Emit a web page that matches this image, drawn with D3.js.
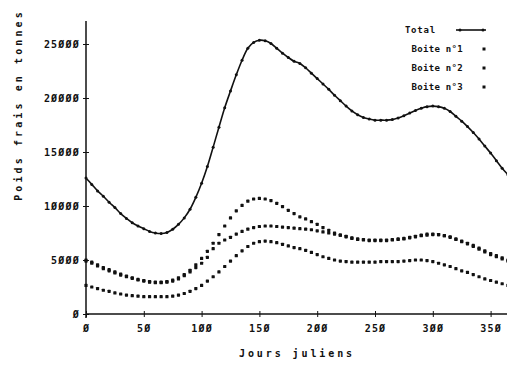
<!DOCTYPE html>
<html>
<head>
<meta charset="utf-8">
<script src="https://cdn.jsdelivr.net/npm/d3@7"></script>
<style>
  body { margin: 0; background: #fff; }
  text { font-family: "DejaVu Sans Mono", monospace; font-weight: bold; fill: #111; }
</style>
</head>
<body>
<div id="graph1"></div>
<script>
// julian days, one reading every 5 days
const days = d3.range(0, 366, 5);

// tonnes
const total = [12600, 12000, 11400, 10900, 10350, 9850, 9300, 8850, 8450, 8150,
  7900, 7650, 7500, 7450, 7550, 7850, 8300, 8900, 9700, 10800,
  12100, 13650, 15450, 17300, 19100, 20650, 22150, 23500, 24600, 25150,
  25350, 25300, 25050, 24600, 24150, 23750, 23400, 23200, 22800, 22300,
  21800, 21300, 20800, 20250, 19750, 19250, 18800, 18450, 18200, 18050,
  17950, 17950, 17950, 18000, 18150, 18350, 18600, 18850, 19050, 19200,
  19250, 19200, 19050, 18750, 18300, 17850, 17350, 16800, 16200, 15550,
  14900, 14200, 13500, 12900];

const boite1 = [5000, 4800, 4550, 4300, 4100, 3900, 3700, 3500, 3350, 3200,
  3100, 3000, 2950, 2950, 3000, 3150, 3350, 3650, 4050, 4550,
  5150, 5800, 6550, 7350, 8150, 8900, 9550, 10050, 10450, 10650,
  10700, 10650, 10500, 10250, 9950, 9600, 9300, 9000, 8800, 8550,
  8300, 8000, 7750, 7500, 7300, 7150, 7000, 6900, 6850, 6800,
  6800, 6800, 6800, 6850, 6900, 6950, 7050, 7150, 7250, 7300,
  7350, 7350, 7250, 7150, 6950, 6750, 6550, 6350, 6100, 5850,
  5600, 5400, 5200, 5000];

const boite2 = [4900, 4700, 4450, 4200, 4000, 3800, 3600, 3450, 3300, 3150,
  3050, 2950, 2900, 2900, 2950, 3050, 3250, 3550, 3900, 4300,
  4700, 5250, 6050, 6550, 6850, 7100, 7400, 7650, 7850, 8000,
  8100, 8150, 8150, 8100, 8050, 8000, 7950, 7900, 7850, 7800,
  7700, 7600, 7500, 7400, 7300, 7200, 7050, 6950, 6900, 6850,
  6850, 6850, 6850, 6900, 6950, 7000, 7100, 7200, 7300, 7400,
  7400, 7350, 7250, 7100, 6900, 6700, 6500, 6250, 6000, 5750,
  5500, 5300, 5100, 4900];

const boite3 = [2650, 2500, 2350, 2200, 2100, 1950, 1850, 1750, 1700, 1650,
  1600, 1600, 1600, 1600, 1600, 1650, 1750, 1900, 2100, 2350,
  2650, 3050, 3450, 3900, 4400, 4900, 5400, 5850, 6250, 6550,
  6700, 6750, 6700, 6600, 6450, 6300, 6150, 6050, 5900, 5700,
  5500, 5300, 5150, 5000, 4900, 4850, 4800, 4800, 4800, 4800,
  4800, 4850, 4850, 4850, 4850, 4900, 4950, 5000, 5000, 4950,
  4850, 4700, 4550, 4400, 4200, 4000, 3850, 3650, 3450, 3250,
  3100, 2950, 2800, 2650];

const xTicks = [0, 50, 100, 150, 200, 250, 300, 350];
const yTicks = [0, 5000, 10000, 15000, 20000, 25000];
const legendNames = ["Total", "Boite n°1", "Boite n°2", "Boite n°3"];

const width = 507, height = 367;
const margin = {left: 86, top: 21, right: 0, bottom: 53};

const svg = d3.select("#graph1").append("svg")
    .attr("width", width)
    .attr("height", height);

const x = d3.scaleLinear().domain([0, 365]).range([margin.left, margin.left + 365 * 404.6 / 350]);
const y = d3.scaleLinear().domain([0, 25000]).range([314, 44]);

// zeros drawn slashed like the old plotter font
const slash = s => String(s).replace(/0/g, "Ø");

// axes (cross ticks on both sides)
const yAxis = svg.append("g").attr("transform", `translate(${margin.left},0)`)
    .call(d3.axisLeft(y).tickValues(yTicks).tickSize(3).tickFormat(slash));
yAxis.select(".domain").attr("d", `M0,${y(0) + 4}V${margin.top}`).attr("stroke", "#111").attr("stroke-width", 1.5);
yAxis.selectAll(".tick line").attr("x1", 3).attr("x2", -3).attr("stroke", "#111");
yAxis.selectAll(".tick text").attr("x", -6).style("font-size", "10px").style("letter-spacing", "1.2px");

const xAxis = svg.append("g").attr("transform", `translate(0,${y(0)})`)
    .call(d3.axisBottom(x).tickValues(xTicks).tickSize(3).tickFormat(slash));
xAxis.select(".domain").attr("d", `M${margin.left},0H${width}`).attr("stroke", "#111").attr("stroke-width", 1.5);
xAxis.selectAll(".tick line").attr("y1", -3).attr("y2", 3).attr("stroke", "#111");
xAxis.selectAll(".tick text").attr("y", 11).style("font-size", "10px").style("letter-spacing", "1.2px");

// axis titles
svg.append("text")
    .attr("transform", `translate(22, 105) rotate(-90)`)
    .style("text-anchor", "middle")
    .style("font-size", "10px")
    .style("letter-spacing", "3.1px")
    .text("Poids frais en tonnes");

svg.append("text")
    .attr("x", 297).attr("y", 357)
    .style("text-anchor", "middle")
    .style("font-size", "10px")
    .style("letter-spacing", "2.9px")
    .text("Jours juliens");

// total: line with small dots at each reading
const line = d3.line().x((d, i) => x(days[i])).y(d => y(d)).curve(d3.curveCatmullRom);
svg.append("path").datum(total)
    .attr("d", line)
    .attr("fill", "none")
    .attr("stroke", "#111")
    .attr("stroke-width", 1.6);
svg.append("g").selectAll("circle").data(total).join("circle")
    .attr("cx", (d, i) => x(days[i]))
    .attr("cy", d => y(d))
    .attr("r", 1.5)
    .attr("fill", "#111");

// boxes: dots only
[boite1, boite2, boite3].forEach(series => {
    svg.append("g").selectAll("rect").data(series).join("rect")
        .attr("x", (d, i) => x(days[i]) - 1.6)
        .attr("y", d => y(d) - 1.6)
        .attr("width", 3.2)
        .attr("height", 3.2)
        .attr("rx", 0.6)
        .attr("fill", "#111");
});

// legend
const legend = svg.append("g");
legendNames.forEach((name, i) => {
    const ly = 30 + i * 19;
    legend.append("text")
        .attr("x", i === 0 ? 436 : 463).attr("y", ly + 3)
        .style("text-anchor", "end")
        .style("font-size", "9px")
        .style("letter-spacing", i === 0 ? "0.8px" : "0.3px")
        .text(name);
    if (i === 0) {
        legend.append("line")
            .attr("x1", 456).attr("x2", 486).attr("y1", ly).attr("y2", ly)
            .attr("stroke", "#111").attr("stroke-width", 1.6);
        legend.append("circle").attr("cx", 460).attr("cy", ly).attr("r", 1.5).attr("fill", "#111");
        legend.append("circle").attr("cx", 483).attr("cy", ly).attr("r", 1.5).attr("fill", "#111");
    } else {
        legend.append("rect")
            .attr("x", 482.5).attr("y", ly - 1.5).attr("width", 3).attr("height", 3)
            .attr("fill", "#111");
    }
});
</script>
</body>
</html>
